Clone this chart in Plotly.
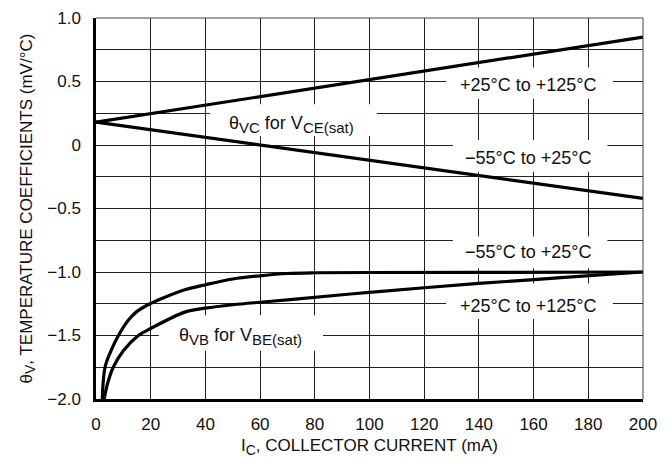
import plotly.graph_objects as go

# ---- data ----
vce_x = [0, 200]
vce_hot = [0.18, 0.85]      # +25°C to +125°C
vce_cold = [0.18, -0.42]    # −55°C to +25°C

vbe_cold_x = [2.3, 3.3, 5.5, 8.2, 11.8, 15, 19.7, 25, 32.5, 40, 50, 60, 70, 80, 100, 140, 200]
vbe_cold_y = [-2.0, -1.75, -1.62, -1.5, -1.38, -1.31, -1.25, -1.20, -1.14, -1.10, -1.055, -1.03, -1.012, -1.006, -1.004, -1.003, -1.0]

vbe_hot_x = [3.0, 4.2, 6.3, 10, 15.5, 20, 32.5, 40, 50, 60, 70, 100, 140, 170, 200]
vbe_hot_y = [-2.0, -1.88, -1.75, -1.62, -1.50, -1.445, -1.316, -1.285, -1.258, -1.238, -1.22, -1.16, -1.09, -1.045, -1.0]

x_ticks = [0, 20, 40, 60, 80, 100, 120, 140, 160, 180, 200]
y_grid = [1.0, 0.75, 0.5, 0.25, 0, -0.25, -0.5, -0.75, -1.0, -1.25, -1.5, -1.75, -2.0]
y_labels = ["1.0", "", "0.5", "", "0", "", "−0.5", "", "−1.0", "", "−1.5", "", "−2.0"]

FONT = "Liberation Sans, Arial, sans-serif"
LW = 3.2

fig = go.Figure()
for xs, ys in [(vce_x, vce_hot), (vce_x, vce_cold)]:
    fig.add_trace(go.Scatter(x=xs, y=ys, mode="lines",
                             line=dict(color="black", width=LW), showlegend=False))
for xs, ys in [(vbe_cold_x, vbe_cold_y), (vbe_hot_x, vbe_hot_y)]:
    fig.add_trace(go.Scatter(x=xs, y=ys, mode="lines",
                             line=dict(color="black", width=LW, shape="spline", smoothing=1.0),
                             showlegend=False))

# white label backgrounds (between grid and traces)
boxes = [
    (128, 189, 0.365, 0.61),
    (130.5, 187, -0.21, 0.04),
    (130.5, 187, -0.97, -0.72),
    (128, 189, -1.37, -1.09),
    (41.7, 102.7, 0.07, 0.32),
    (23, 83, -1.62, -1.34),
]
for x0, x1, y0, y1 in boxes:
    fig.add_shape(type="rect", x0=x0, x1=x1, y0=y0, y1=y1, xref="x", yref="y",
                  fillcolor="white", line=dict(width=0), layer="between")

def sub(t, s=15):
    return '<sub><span style="font-size:%dpx">%s</span></sub>' % (s, t)

labels = [
    (158, 0.47, "+25°C to +125°C"),
    (158, -0.105, "−55°C to +25°C"),
    (158, -0.84, "−55°C to +25°C"),
    (158, -1.27, "+25°C to +125°C"),
    (71.5, 0.16, "θ" + sub("VC") + " for V" + sub("CE(sat)")),
    (53, -1.51, "θ" + sub("VB") + " for V" + sub("BE(sat)")),
]
for x, y, t in labels:
    fig.add_annotation(x=x, y=y, text=t, showarrow=False, xref="x", yref="y",
                       font=dict(family=FONT, size=18, color="#111"))

# axis titles
fig.add_annotation(x=0.5, y=0, xref="paper", yref="paper", yanchor="middle",
                   yshift=-48, showarrow=False,
                   text="I" + sub("C", 14) + ", COLLECTOR CURRENT (mA)",
                   font=dict(family=FONT, size=17, color="#111"))
fig.add_annotation(x=0, y=0.5, xref="paper", yref="paper", xanchor="center",
                   xshift=-69, textangle=-90, showarrow=False,
                   text="θ" + sub("V", 14) + ", TEMPERATURE COEFFICIENTS (mV/°C)",
                   font=dict(family=FONT, size=17, color="#111"))

# page body has an 8px margin: size/margins compensate so the plot sits as in the reference
fig.update_layout(
    width=664, height=456,
    margin=dict(l=88, r=29, t=10, b=65),
    paper_bgcolor="white", plot_bgcolor="white",
    font=dict(family=FONT, size=17, color="#111"),
)
fig.update_xaxes(
    range=[0, 200], tickvals=x_ticks, ticktext=[str(v) for v in x_ticks],
    showgrid=True, gridcolor="#222", gridwidth=1, zeroline=False,
    showline=True, linecolor="black", linewidth=2.5, mirror=False,
    ticks="", ticklabelstandoff=8, automargin=False,
)
fig.update_yaxes(
    range=[-2.0, 1.0], tickvals=y_grid, ticktext=y_labels,
    showgrid=True, gridcolor="#222", gridwidth=1, zeroline=False,
    showline=True, linecolor="black", linewidth=2.5, mirror=False,
    ticks="", ticklabelstandoff=9, automargin=False,
)
# thin top/right frame
fig.add_shape(type="line", xref="paper", yref="paper", x0=0, x1=1, y0=1, y1=1,
              line=dict(color="#444", width=1))
fig.add_shape(type="line", xref="paper", yref="paper", x0=1, x1=1, y0=0, y1=1,
              line=dict(color="#444", width=1))

fig.write_html("out.html")
